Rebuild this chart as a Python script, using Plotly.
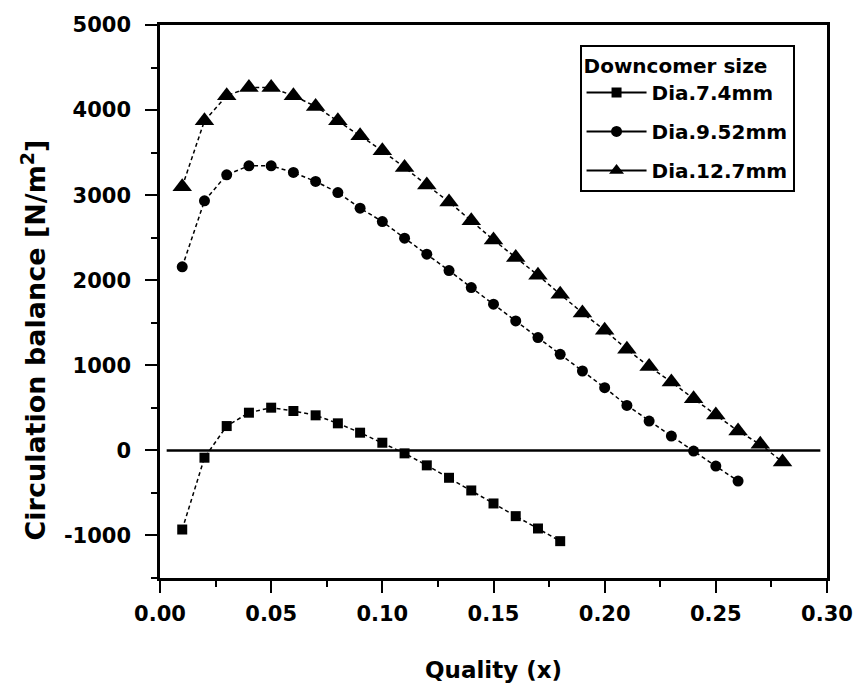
import plotly.graph_objects as go

# Data
x_74 = [0.01, 0.02, 0.03, 0.04, 0.05, 0.06, 0.07, 0.08, 0.09, 0.10, 0.11, 0.12, 0.13, 0.14, 0.15, 0.16, 0.17, 0.18]
y_74 = [-930, -86, 286, 443, 502, 463, 412, 318, 208, 90, -35, -176, -322, -471, -624, -773, -918, -1067]

x_952 = [0.01, 0.02, 0.03, 0.04, 0.05, 0.06, 0.07, 0.08, 0.09, 0.10, 0.11, 0.12, 0.13,
         0.14, 0.15, 0.16, 0.17, 0.18, 0.19, 0.20, 0.21, 0.22, 0.23, 0.24, 0.25, 0.26]
y_952 = [2157, 2933, 3239, 3345, 3345, 3267, 3161, 3031, 2847, 2690, 2494, 2306, 2114,
         1914, 1718, 1521, 1326, 1129, 933, 737, 529, 345, 168, -8, -184, -361]

x_127 = [0.01, 0.02, 0.03, 0.04, 0.05, 0.06, 0.07, 0.08, 0.09, 0.10, 0.11, 0.12, 0.13, 0.14,
         0.15, 0.16, 0.17, 0.18, 0.19, 0.20, 0.21, 0.22, 0.23, 0.24, 0.25, 0.26, 0.27, 0.28]
y_127 = [3100, 3874, 4168, 4266, 4266, 4168, 4043, 3874, 3698, 3521, 3325, 3118, 2920, 2698,
         2474, 2267, 2059, 1835, 1616, 1412, 1188, 985, 804, 608, 415, 227, 71, -137]

names = ["Dia.7.4mm", "Dia.9.52mm", "Dia.12.7mm"]
symbols = ["square", "circle", "triangle-up"]
sizes = [10, 11, 17]

zero_line_x = [0.003, 0.297]
zero_line_y = [0, 0]

x_ticks = [0.00, 0.05, 0.10, 0.15, 0.20, 0.25, 0.30]
x_tick_labels = ["0.00", "0.05", "0.10", "0.15", "0.20", "0.25", "0.30"]
y_ticks = [-1000, 0, 1000, 2000, 3000, 4000, 5000]
y_tick_labels = ["-1000", "0", "1000", "2000", "3000", "4000", "5000"]

FONT = "DejaVu Sans"

fig = go.Figure()

fig.add_trace(go.Scatter(x=zero_line_x, y=zero_line_y, mode="lines",
                         line=dict(color="black", width=2.5), showlegend=False, hoverinfo="skip"))

for i, (xs, ys, nm, sym, sz) in enumerate(zip([x_74, x_952, x_127], [y_74, y_952, y_127], names, symbols, sizes)):
    # plotted series (dashed)
    fig.add_trace(go.Scatter(
        x=xs, y=ys, name=nm, mode="lines+markers", showlegend=False, legendgroup=nm,
        line=dict(color="black", width=1.5, dash="4px,3px"),
        marker=dict(symbol=sym, size=sz, color="black"),
    ))
    # legend entry (solid line, as in the reference legend)
    fig.add_trace(go.Scatter(
        x=[None], y=[None], name=nm, mode="lines+markers", legendgroup=nm,
        line=dict(color="black", width=2),
        marker=dict(symbol=sym, size=min(sz, 13), color="black"),
    ))

axis_common = dict(
    showline=True, linecolor="black", linewidth=2.5, mirror=True,
    ticks="outside", ticklen=12, tickwidth=2, tickcolor="black",
    showgrid=False, zeroline=False,
    tickfont=dict(family=FONT, size=21, color="black", weight="bold"),
)

fig.update_xaxes(range=[0, 0.30], tickvals=x_ticks, ticktext=x_tick_labels, ticklabelstandoff=3,
                 minor=dict(ticks="outside", ticklen=6, tickwidth=2, tickcolor="black", dtick=0.025, tick0=0),
                 **axis_common)
fig.update_yaxes(range=[-1500, 5000], tickvals=y_ticks, ticktext=y_tick_labels, ticklabelstandoff=10,
                 minor=dict(ticks="outside", ticklen=6, tickwidth=2, tickcolor="black", dtick=500, tick0=0),
                 **axis_common)

fig.add_annotation(text="<b>Circulation balance [N/m<sup>2</sup>]</b>", textangle=-90,
                   xref="paper", yref="paper", x=-0.19, y=0.43, xanchor="center", yanchor="middle",
                   showarrow=False, font=dict(family=FONT, size=27, color="black"))
fig.add_annotation(text="<b>Quality (x)</b>",
                   xref="paper", yref="paper", x=0.5, y=-0.166, xanchor="center", yanchor="middle",
                   showarrow=False, font=dict(family=FONT, size=23, color="black"))

fig.update_layout(
    width=865, height=689,
    margin=dict(l=160, r=29, t=25, b=111),
    plot_bgcolor="white", paper_bgcolor="white",
    legend=dict(
        x=0.629, y=0.964, xanchor="left", yanchor="top",
        title=dict(text="<b>Downcomer size</b>", font=dict(family=FONT, size=20, color="black")),
        font=dict(family=FONT, size=20, color="black", weight="bold"),
        bordercolor="black", borderwidth=2, bgcolor="white",
        tracegroupgap=10, itemwidth=60, entrywidth=180,
    ),
)

fig.write_html("out.html", config={"displayModeBar": False})

# remove the browser's default 8px body margin so the figure sits at the page origin
with open("out.html", "r", encoding="utf-8") as f:
    html = f.read()
html = html.replace("<body>", '<body style="margin:0;padding:0;">', 1)
with open("out.html", "w", encoding="utf-8") as f:
    f.write(html)
